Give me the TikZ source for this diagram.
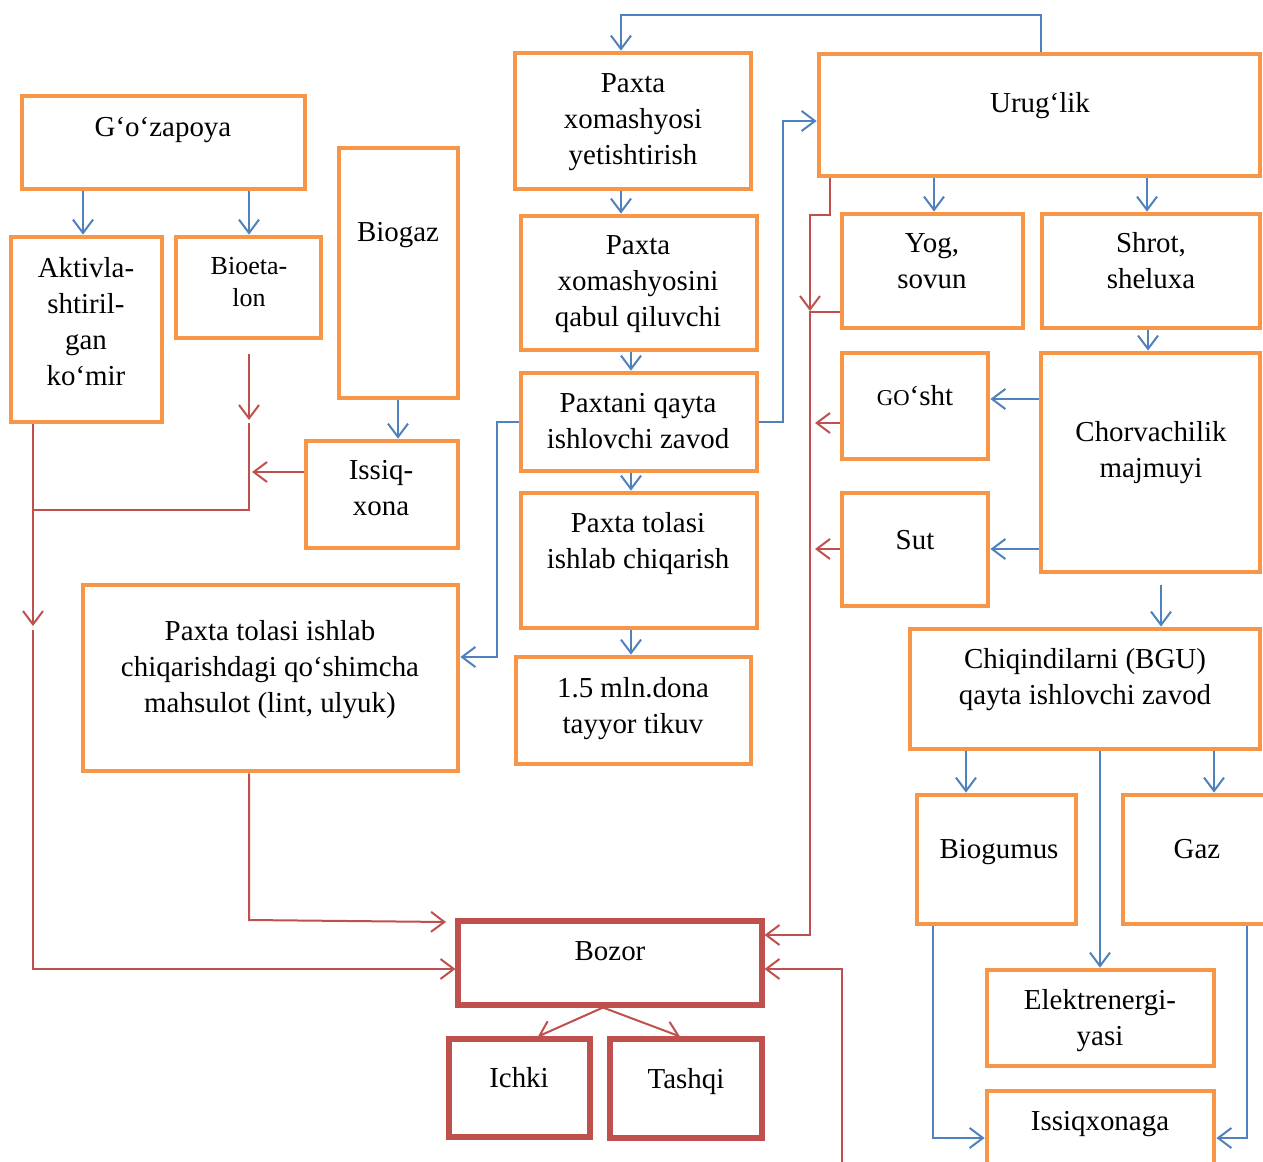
\documentclass[tikz,border=0pt]{standalone}
\usepackage{fontspec}
\setmainfont{Liberation Serif}
\usetikzlibrary{arrows.meta,fit}
\definecolor{ob}{HTML}{F79646}
\definecolor{bl}{HTML}{4F81BD}
\definecolor{rd}{HTML}{C0504D}
\tikzset{
 obox/.style={draw=ob, line width=3.6pt, inner sep=0pt},
 rbox/.style={draw=rd, line width=3.8pt, inner sep=0pt},
 txt/.style={align=center, font=\fontsize{21.7}{27}\selectfont, inner sep=0pt},
 stxt/.style={align=center, font=\fontsize{19.5}{24}\selectfont, inner sep=0pt},
 bln/.style={draw=bl, line width=1.5pt},
 rln/.style={draw=rd, line width=1.5pt},
 barr/.style={bln, -{Straight Barb[length=10pt,width=15pt,line width=1.5pt]}},
 rarr/.style={rln, -{Straight Barb[length=10pt,width=15pt,line width=1.5pt]}},
}
\begin{document}
\begin{tikzpicture}[x=0.75pt,y=-0.75pt]
\clip (0,0) rectangle (1263,1162);
\fill[white] (0,0) rectangle (1263,1162);
% ---------- boxes ----------
\node[obox, fit={(22,96)(305,189)}] (goz) {};
\node[obox, fit={(11,237)(162,422)}] (akt) {};
\node[obox, fit={(176,237)(321,338)}] (bio) {};
\node[obox, fit={(339,148)(458,398)}] (biogaz) {};
\node[obox, fit={(306,441)(458,548)}] (issiq) {};
\node[obox, fit={(515,53)(751,189)}] (pxy) {};
\node[obox, fit={(521,216)(757,350)}] (pxq) {};
\node[obox, fit={(521,373)(757,471)}] (pqz) {};
\node[obox, fit={(521,493)(757,628)}] (pti) {};
\node[obox, fit={(516,657)(751,764)}] (mln) {};
\node[obox, fit={(83,585)(458,771)}] (qsh) {};
\node[rbox, fit={(458,921)(762,1005)}] (bozor) {};
\node[rbox, fit={(449,1039)(590,1137)}] (ichki) {};
\node[rbox, fit={(610,1039)(762,1138)}] (tashqi) {};
\node[obox, fit={(819,54)(1260,176)}] (urug) {};
\node[obox, fit={(842,214)(1023,328)}] (yog) {};
\node[obox, fit={(1042,214)(1260,328)}] (shrot) {};
\node[obox, fit={(842,353)(988,459)}] (gosht) {};
\node[obox, fit={(1041,353)(1260,572)}] (chorv) {};
\node[obox, fit={(842,493)(988,606)}] (sut) {};
\node[obox, fit={(910,629)(1260,749)}] (chiq) {};
\node[obox, fit={(917,795)(1076,924)}] (biogum) {};
\node[obox, fit={(1123,795)(1272,924)}] (gaz) {};
\node[obox, fit={(987,970)(1214,1066)}] (elek) {};
\node[obox, fit={(987,1091)(1214,1180)}] (issiqx) {};
% ---------- texts ----------
\node[txt] (goz-t) at (163,130) {G‘o‘zapoya};
\node[txt] (akt-t) at (86,322) {Aktivla-\\shtiril-\\gan\\ko‘mir};
\node[stxt] (bio-t) at (249,282) {Bioeta-\\lon};
\node[txt] (biogaz-t) at (398,235) {Biogaz};
\node[txt] (issiq-t) at (381,488) {Issiq-\\xona};
\node[txt] (pxy-t) at (633,122) {Paxta\\xomashyosi\\yetishtirish};
\node[txt] (pxq-t) at (638,284) {Paxta\\xomashyosini\\qabul qiluvchi};
\node[txt] (pqz-t) at (638,421) {Paxtani qayta\\ishlovchi zavod};
\node[txt] (pti-t) at (638,544) {Paxta tolasi\\ishlab chiqarish};
\node[txt] (mln-t) at (633,709) {1.5 mln.dona\\tayyor tikuv};
\node[txt] (qsh-t) at (270,670) {Paxta tolasi ishlab\\chiqarishdagi qo‘shimcha\\mahsulot (lint, ulyuk)};
\node[txt] (bozor-t) at (610,951) {Bozor};
\node[txt] (ichki-t) at (519,1078) {Ichki};
\node[txt] (tashqi-t) at (686,1082) {Tashqi};
\node[txt] (urug-t) at (1040,106) {Urug‘lik};
\node[txt] (yog-t) at (932,261) {Yog,\\sovun};
\node[txt] (shrot-t) at (1151,261) {Shrot,\\sheluxa};
\node[txt] (gosht-t) at (915,396) {{\fontsize{17}{20}\selectfont GO}‘sht};
\node[txt] (chorv-t) at (1151,453) {Chorvachilik\\majmuyi};
\node[txt] (sut-t) at (915,540) {Sut};
\node[txt] (chiq-t) at (1085,680) {Chiqindilarni (BGU)\\qayta ishlovchi zavod};
\node[txt] (biogum-t) at (999,852) {Biogumus};
\node[txt] (gaz-t) at (1197,849) {Gaz};
\node[txt] (elek-t) at (1100,1021) {Elektrenergi-\\yasi};
\node[txt] (issiqx-t) at (1100,1124) {Issiqxonaga};
% ---------- blue connectors ----------
\draw[barr] (83,0 |- goz.south) -- (83,0 |- akt.north);
\draw[barr] (249,0 |- goz.south) -- (249,0 |- bio.north);
\draw[barr] (398,0 |- biogaz.south) -- (398,0 |- issiq.north);
\draw[barr] (1041,0 |- urug.north) -- (1041,15) -| (621,0 |- pxy.north);
\draw[barr] (621,0 |- pxy.south) -- (621,0 |- pxq.north);
\draw[barr] (631,0 |- pxq.south) -- (631,0 |- pqz.north);
\draw[barr] (631,0 |- pqz.south) -- (631,0 |- pti.north);
\draw[barr] (631,0 |- pti.south) -- (631,0 |- mln.north);
\draw[barr] (pqz.east) -- (783,422) |- (urug.west |- 0,121);
\draw[barr] (pqz.west) -- (497,422) |- (qsh.east |- 0,657);
\draw[barr] (934,0 |- urug.south) -- (934,0 |- yog.north);
\draw[barr] (1147,0 |- urug.south) -- (1147,0 |- shrot.north);
\draw[barr] (1148,0 |- shrot.south) -- (1148,0 |- chorv.north);
\draw[barr] (chorv.west |- 0,399) -- (gosht.east |- 0,399);
\draw[barr] (chorv.west |- 0,549) -- (sut.east |- 0,549);
\coordinate (b16) at (1161,585);
\draw[barr] (b16) -- (1161,0 |- chiq.north);
\draw[barr] (966,0 |- chiq.south) -- (966,0 |- biogum.north);
\draw[barr] (1100,0 |- chiq.south) -- (1100,0 |- elek.north);
\draw[barr] (1214,0 |- chiq.south) -- (1214,0 |- gaz.north);
\draw[barr] (933,0 |- biogum.south) -- (933,1138) -- (issiqx.west |- 0,1138);
\draw[barr] (1247,0 |- gaz.south) -- (1247,1138) -- (issiqx.east |- 0,1138);
% ---------- red connectors ----------
\draw[rarr, shorten <=10.5pt] (249,0 |- bio.south) -- (249,420);
\coordinate (r2s) at (249,423);
\coordinate (r2e) at (33,510);
\draw[rln] (r2s) |- (r2e);
\draw[rarr] (issiq.west |- 0,472) -- (252,472);
\draw[rarr] (33,0 |- akt.south) -- (33,626);
\coordinate (r5s) at (33,630);
\draw[rarr] (r5s) |- (bozor.west |- 0,969);
\draw[rarr] (249,0 |- qsh.south) -- (249,920) -- (446,922);
\draw[rarr] (830,0 |- urug.south) |- (810,215) -- (810,311);
\draw[rarr] (yog.west |- 0,312) -- (810,312) |- (bozor.east |- 0,935);
\draw[rarr] (gosht.west |- 0,423) -- (815,423);
\draw[rarr] (sut.west |- 0,549) -- (815,549);
\coordinate (r11) at (842,1162);
\draw[rarr] (r11) |- (bozor.east |- 0,969);
\draw[rarr] (603,0 |- bozor.south) -- (538,0 |- ichki.north);
\draw[rarr] (603,0 |- bozor.south) -- (680,0 |- tashqi.north);
\end{tikzpicture}
\end{document}
